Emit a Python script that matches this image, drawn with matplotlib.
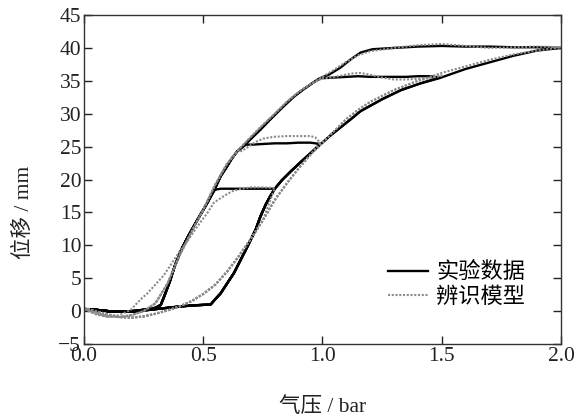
import matplotlib
matplotlib.use("Agg")
import matplotlib.pyplot as plt
import numpy as np

plt.rcParams['font.family'] = ['Liberation Serif', 'Noto Sans CJK SC']
plt.rcParams['axes.unicode_minus'] = True

# ---------------- experimental data ----------------
exp_load_p = [0.00, 0.05, 0.10, 0.15, 0.20, 0.25, 0.30, 0.35, 0.40, 0.45, 0.50, 0.531, 0.55,
              0.573, 0.60, 0.629, 0.657, 0.685, 0.72, 0.74, 0.762, 0.78, 0.80, 0.83, 0.866,
              0.91, 0.95, 0.99, 1.03, 1.075, 1.12, 1.16, 1.25, 1.33, 1.41, 1.49, 1.60, 1.70,
              1.80, 1.90, 2.00]
exp_load_d = [0.3, 0.2, 0.0, -0.1, -0.1, 0.1, 0.3, 0.5, 0.7, 0.85, 0.95, 1.0, 1.8,
              2.7, 4.2, 5.8, 7.8, 9.8, 12.4, 14.4, 16.2, 17.4, 18.6, 19.9, 21.2,
              22.7, 24.0, 25.3, 26.6, 27.9, 29.2, 30.4, 32.2, 33.6, 34.6, 35.4, 36.8, 37.8,
              38.8, 39.6, 40.0]

exp_unload_p = [2.00, 1.90, 1.80, 1.70, 1.60, 1.50, 1.40, 1.30, 1.21, 1.16, 1.12, 1.075,
                1.03, 0.99, 0.964, 0.92, 0.88, 0.83, 0.78, 0.74, 0.70, 0.67, 0.643, 0.62,
                0.60, 0.573, 0.545, 0.51, 0.476, 0.44, 0.41, 0.38, 0.36, 0.336, 0.322, 0.30,
                0.25, 0.20, 0.15, 0.10, 0.05, 0.00]
exp_unload_d = [40.0, 40.1, 40.1, 40.2, 40.2, 40.3, 40.2, 40.0, 39.8, 39.3, 38.3, 37.0,
                36.0, 35.4, 34.8, 33.7, 32.6, 30.9, 29.1, 27.6, 26.2, 25.1, 24.3, 23.2,
                22.0, 20.5, 18.3, 16.0, 13.9, 11.6, 9.5, 6.8, 4.5, 2.2, 0.95, 0.5,
                0.2, 0.0, -0.1, 0.0, 0.2, 0.3]

# minor-loop reversal segments (experimental)
exp_rev08_p = [0.80, 0.75, 0.70, 0.65, 0.60, 0.573, 0.555]
exp_rev08_d = [18.6, 18.6, 18.6, 18.6, 18.6, 18.6, 18.5]
exp_rev10_p = [0.99, 0.95, 0.90, 0.85, 0.80, 0.75, 0.706, 0.68]
exp_rev10_d = [25.4, 25.6, 25.6, 25.5, 25.5, 25.4, 25.3, 25.3]
exp_rev15_p = [1.49, 1.45, 1.40, 1.35, 1.30, 1.25, 1.20, 1.15, 1.10, 1.05, 1.00]
exp_rev15_d = [35.5, 35.7, 35.7, 35.6, 35.6, 35.6, 35.6, 35.7, 35.6, 35.5, 35.4]

# ---------------- identified model ----------------
mod_load_p = [0.00, 0.05, 0.10, 0.15, 0.20, 0.25, 0.30, 0.35, 0.40, 0.45, 0.50, 0.55,
              0.60, 0.65, 0.70, 0.75, 0.80, 0.85, 0.90, 0.95, 1.00, 1.05, 1.10, 1.15,
              1.20, 1.30, 1.40, 1.50, 1.60, 1.70, 1.80, 1.90, 2.00]
mod_load_d = [0.5, 0.0, -0.5, -0.9, -1.0, -0.8, -0.4, 0.1, 0.7, 1.5, 2.6, 4.0,
              6.0, 8.4, 11.0, 13.8, 16.9, 19.4, 21.7, 23.8, 25.6, 27.4, 29.2, 30.6,
              31.8, 33.6, 35.0, 36.2, 37.2, 38.2, 39.0, 39.6, 40.1]

mod_unload_p = [2.00, 1.90, 1.80, 1.70, 1.60, 1.50, 1.40, 1.30, 1.20, 1.15, 1.10, 1.05,
                1.00, 0.95, 0.90, 0.85, 0.80, 0.75, 0.70, 0.65, 0.60, 0.55, 0.50, 0.45,
                0.40, 0.35, 0.30, 0.25, 0.20, 0.15, 0.10, 0.05, 0.00]
mod_unload_d = [40.1, 40.2, 40.1, 40.0, 40.3, 40.6, 40.4, 40.0, 39.5, 38.9, 37.9, 36.7,
                35.6, 34.5, 33.3, 31.8, 30.0, 28.3, 26.5, 24.6, 22.4, 19.2, 15.4, 12.0,
                8.4, 4.2, 1.2, 0.0, -0.6, -0.9, -0.8, -0.3, 0.4]

mod_rev08_p = [0.80, 0.75, 0.70, 0.66, 0.62, 0.587, 0.545, 0.517, 0.476, 0.433, 0.405,
               0.336, 0.266, 0.238, 0.196, 0.15, 0.10, 0.05, 0.00]
mod_rev08_d = [18.7, 18.8, 18.8, 18.6, 18.2, 17.5, 16.5, 14.9, 12.9, 10.6, 9.3,
               5.5, 2.7, 1.8, 0.2, -0.6, -0.9, -0.5, 0.3]
mod_rev10_p = [0.99, 0.97, 0.95, 0.90, 0.85, 0.80, 0.78, 0.75, 0.72, 0.69, 0.66]
mod_rev10_d = [25.6, 26.4, 26.6, 26.6, 26.6, 26.5, 26.4, 26.2, 25.7, 25.0, 24.3]
mod_rev15_p = [1.50, 1.45, 1.40, 1.35, 1.30, 1.25, 1.20, 1.16, 1.12, 1.08, 1.04, 1.00]
mod_rev15_d = [35.8, 35.5, 35.3, 35.2, 35.2, 35.5, 35.9, 36.2, 36.1, 35.8, 35.5, 35.4]

x_ticks = [0.0, 0.5, 1.0, 1.5, 2.0]
y_ticks = [-5, 0, 5, 10, 15, 20, 25, 30, 35, 40, 45]
legend_labels = ['实验数据', '辨识模型']
x_label = '气压 / bar'
y_label = '位移 / mm'


def cycle(load_p, load_d, unl_p, unl_d, rev_p=None, rev_d=None, end_rev=True):
    lp = np.asarray(load_p); ld = np.asarray(load_d)
    up = np.asarray(unl_p); ud = np.asarray(unl_d)
    if rev_p is None:
        return np.concatenate([lp, up]), np.concatenate([ld, ud])
    rp = np.asarray(rev_p); rd = np.asarray(rev_d)
    m = lp < rp[0] - 1e-9
    xs = [lp[m], rp]
    ys = [ld[m], rd]
    if end_rev:
        mu = up < rp[-1]
        xs.append(up[mu]); ys.append(ud[mu])
    return np.concatenate(xs), np.concatenate(ys)


fig = plt.figure(figsize=(5.84, 4.17), dpi=100)
ax = fig.add_axes([0.1438, 0.175, 0.8168, 0.789])

exp_cycles = [
    cycle(exp_load_p, exp_load_d, exp_unload_p, exp_unload_d, exp_rev08_p, exp_rev08_d),
    cycle(exp_load_p, exp_load_d, exp_unload_p, exp_unload_d, exp_rev10_p, exp_rev10_d),
    cycle(exp_load_p, exp_load_d, exp_unload_p, exp_unload_d, exp_rev15_p, exp_rev15_d),
    cycle(exp_load_p, exp_load_d, exp_unload_p, exp_unload_d),
]
mod_cycles = [
    cycle(mod_load_p, mod_load_d, mod_unload_p, mod_unload_d, mod_rev08_p, mod_rev08_d, end_rev=False),
    cycle(mod_load_p, mod_load_d, mod_unload_p, mod_unload_d, mod_rev10_p, mod_rev10_d),
    cycle(mod_load_p, mod_load_d, mod_unload_p, mod_unload_d, mod_rev15_p, mod_rev15_d),
    cycle(mod_load_p, mod_load_d, mod_unload_p, mod_unload_d),
]

for i, (x, y) in enumerate(exp_cycles):
    ax.plot(x, y, color='black', lw=1.7, solid_joinstyle='round',
            label=legend_labels[0] if i == 0 else None)
for i, (x, y) in enumerate(mod_cycles):
    ax.plot(x, y, color='#8a8a8a', lw=1.5, linestyle=(0, (1.0, 0.8)),
            label=legend_labels[1] if i == 0 else None)

ax.set_xlim(0, 2.0)
ax.set_ylim(-5, 45)
ax.set_xticks(x_ticks)
ax.set_xticklabels([f'{t:.1f}' for t in x_ticks])
ax.set_yticks(y_ticks)
ax.tick_params(direction='in', length=5.5, width=1.0, top=True, right=True,
               labelsize=15.5, colors='#222222', pad=2)
for s in ax.spines.values():
    s.set_linewidth(1.0)
    s.set_color('#333333')

ax.set_xlabel(x_label, fontsize=15.5, color='#222222')
ax.set_ylabel(y_label, fontsize=15.5, color='#222222')
ax.xaxis.set_label_coords(0.5, -0.162)
ax.yaxis.set_label_coords(-0.105, 0.40)

leg = ax.legend(loc='lower right', bbox_to_anchor=(0.925, 0.11), frameon=False,
                fontsize=16, handlelength=1.8, handletextpad=0.35, labelspacing=0.18,
                borderpad=0, borderaxespad=0)

fig.savefig('out.png', dpi=100)
